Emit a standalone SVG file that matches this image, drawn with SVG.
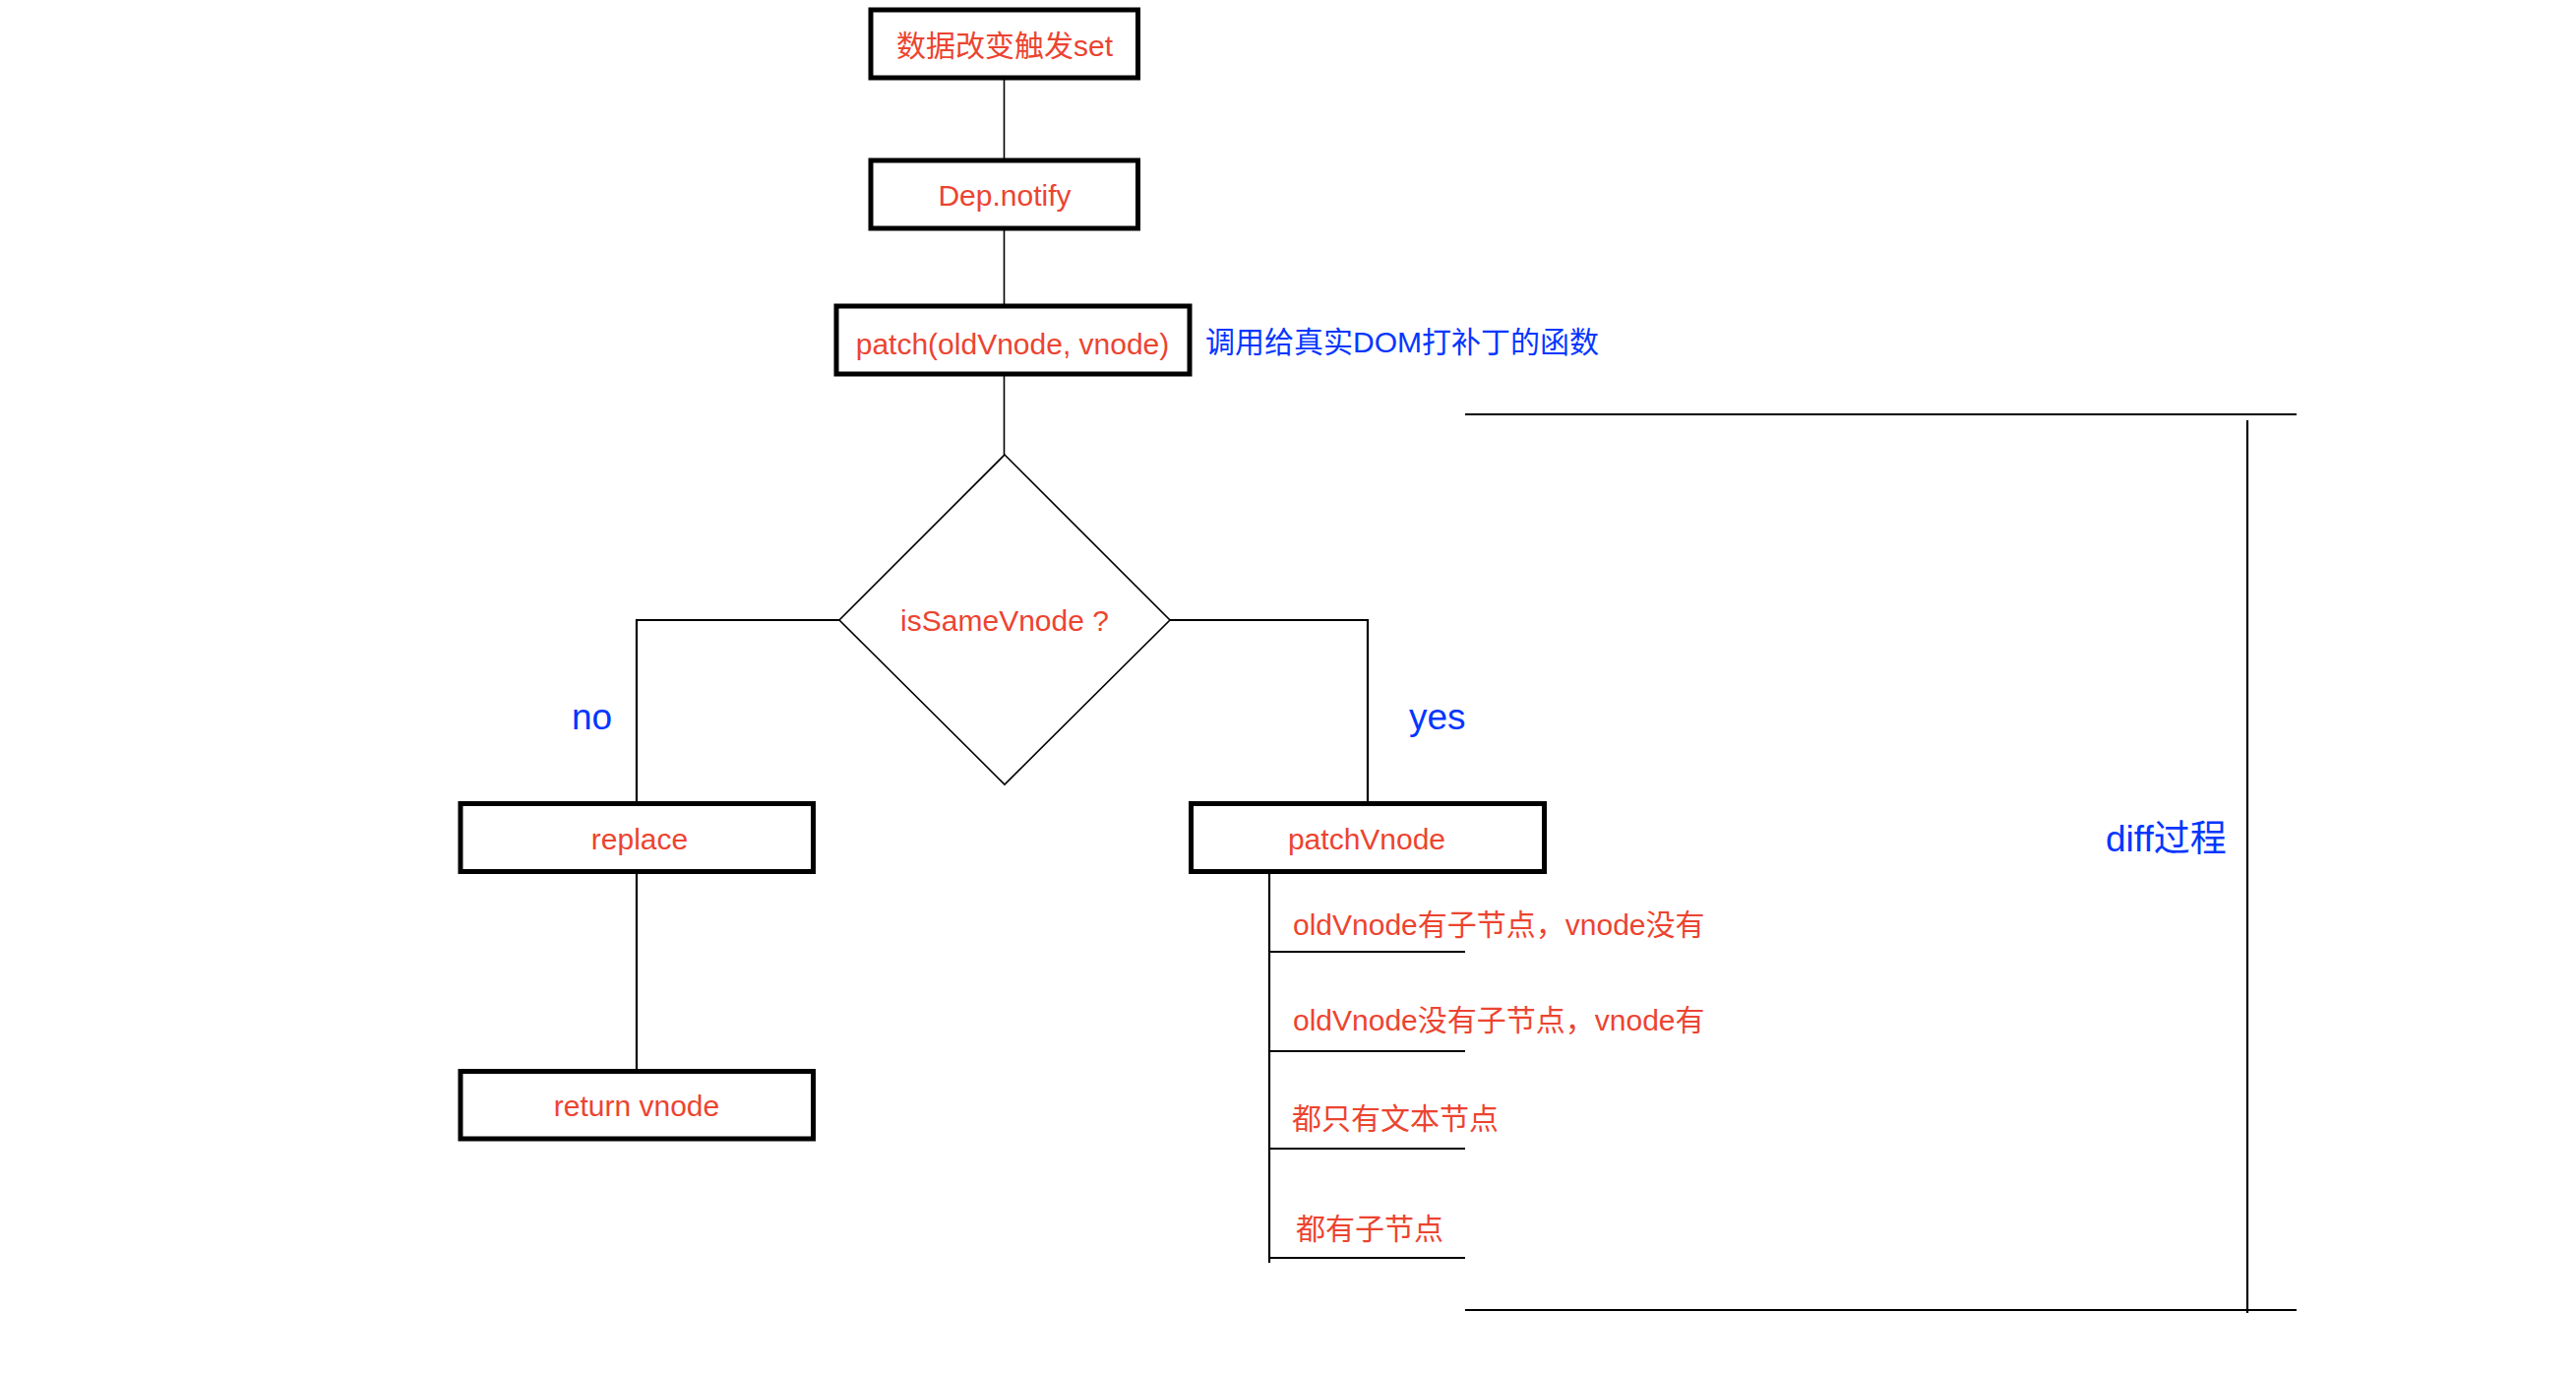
<svg xmlns="http://www.w3.org/2000/svg" width="2618" height="1396" viewBox="0 0 2618 1396">
<style>
.box{fill:#fff;stroke:#000;stroke-width:5}
.ln{fill:none;stroke:#000;stroke-width:1.6}
.ln2{fill:none;stroke:#000;stroke-width:2.2}
.t{font-family:"Liberation Sans","Noto Sans CJK SC",sans-serif;font-size:30px;fill:#ec4430}
.c{text-anchor:middle}
.b{font-family:"Liberation Sans","Noto Sans CJK SC",sans-serif;fill:#0536ff}
</style>
<rect width="2618" height="1396" fill="#fff"/>
<g id="connectors">
<line class="ln" x1="1020.5" y1="81" x2="1020.5" y2="161"/>
<line class="ln" x1="1020.5" y1="234" x2="1020.5" y2="309"/>
<line class="ln" x1="1020.5" y1="382" x2="1020.5" y2="462"/>
<polyline class="ln2" points="853,630 647,630 647,815"/>
<polyline class="ln2" points="1189,630 1390,630 1390,815"/>
<line class="ln2" x1="647" y1="888" x2="647" y2="1087"/>
<line class="ln2" x1="1290" y1="888" x2="1290" y2="1283"/>
<line class="ln2" x1="1289" y1="967" x2="1489" y2="967"/>
<line class="ln2" x1="1289" y1="1068" x2="1489" y2="1068"/>
<line class="ln2" x1="1289" y1="1167" x2="1489" y2="1167"/>
<line class="ln2" x1="1289" y1="1278" x2="1489" y2="1278"/>
</g>
<g id="bracket">
<line class="ln2" x1="1489" y1="421" x2="2334" y2="421"/>
<line class="ln2" x1="2284" y1="427" x2="2284" y2="1334"/>
<line class="ln2" x1="1489" y1="1331" x2="2334" y2="1331"/>
</g>
<g id="node-set">
<rect class="box" x="885" y="10" width="271.5" height="69"/>
<text class="t c" x="1021" y="57">数据改变触发set</text>
</g>
<g id="node-notify">
<rect class="box" x="885" y="163" width="271.5" height="69"/>
<text class="t c" x="1021" y="209">Dep.notify</text>
</g>
<g id="node-patch">
<rect class="box" x="850" y="311" width="359" height="69"/>
<text class="t c" x="1029" y="360">patch(oldVnode, vnode)</text>
</g>
<g id="note-patch">
<text class="b" x="1225" y="358" font-size="30">调用给真实DOM打补丁的函数</text>
</g>
<g id="node-same">
<polygon points="1021,462 1189,630 1021,797 853,630" fill="#fff" stroke="#000" stroke-width="1.6"/>
<text class="t c" x="1021" y="641">isSameVnode ?</text>
</g>
<g id="label-no"><text class="b" x="581" y="741" font-size="37">no</text></g>
<g id="label-yes"><text class="b" x="1432" y="741" font-size="37">yes</text></g>
<g id="node-replace">
<rect class="box" x="468" y="816.5" width="358.5" height="69"/>
<text class="t c" x="650" y="863">replace</text>
</g>
<g id="node-return">
<rect class="box" x="468" y="1088.5" width="358.5" height="68.5"/>
<text class="t c" x="647" y="1134">return vnode</text>
</g>
<g id="node-patchVnode">
<rect class="box" x="1210.5" y="816.5" width="359" height="69"/>
<text class="t c" x="1389" y="863">patchVnode</text>
</g>
<g id="case-1"><text class="t" x="1314" y="950">oldVnode有子节点，vnode没有</text></g>
<g id="case-2"><text class="t" x="1314" y="1047">oldVnode没有子节点，vnode有</text></g>
<g id="case-3"><text class="t" x="1313" y="1147">都只有文本节点</text></g>
<g id="case-4"><text class="t" x="1317" y="1259">都有子节点</text></g>
<g id="label-diff"><text class="b" x="2140" y="865" font-size="37">diff过程</text></g>
</svg>
